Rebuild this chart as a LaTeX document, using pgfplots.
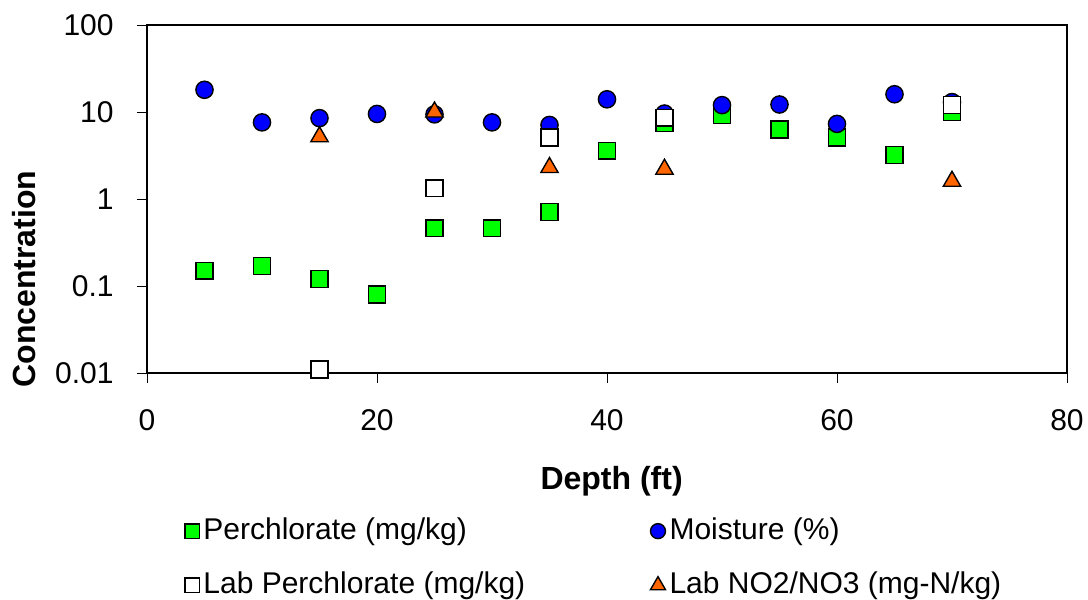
\documentclass[border=0pt]{standalone}
\usepackage{pgfplots}
\pgfplotsset{compat=1.18}
\usepackage{fontspec}
\setmainfont{Liberation Sans}
\definecolor{cgreen}{RGB}{0,255,0}
\definecolor{cblue}{RGB}{0,0,255}
\definecolor{corange}{RGB}{255,102,0}
\begin{document}
\fontsize{15}{18}\selectfont
\begin{tikzpicture}
\path[use as bounding box] (-73.5pt,-113.5pt) rectangle (470.5pt,186.5pt);
\begin{axis}[
  at={(0pt,0pt)}, anchor=south west,
  scale only axis, width=460pt, height=174pt,
  xmin=0, xmax=80, ymode=log, ymin=0.01, ymax=100,
  xtick={0,20,40,60,80},
  ytick={0.01,0.1,1,10,100},
  yticklabels={0.01,0.1,1,10,100},
  /pgf/number format/assume math mode=true,
  log basis y=10,
  minor y tick num=8,
  axis line style={line width=1pt},
  tick align=outside,
  major tick length=5pt,
  minor tick length=3.5pt,
  tick style={black, line width=0.4pt},
  minor y tick style={xshift=3.5pt},
  xtick pos=bottom, ytick pos=left,
  ticklabel style={font=\fontsize{15}{18}\selectfont},
  xticklabel style={yshift=-8pt},
  yticklabel style={xshift=-6.5pt},
  xlabel={\textbf{Depth (ft)}},
  ylabel={\textbf{Concentration}},
  label style={font=\fontsize{16}{19}\selectfont},
  xlabel style={at={(axis description cs:0.505,-0.31)}, anchor=center},
  ylabel style={at={(axis description cs:-0.134,0.27)}, anchor=center},
  legend columns=2,
  legend cell align=left,
  legend style={draw=none, fill=none, at={(axis description cs:0.0407,-0.404)}, anchor=north west,
    font=\fontsize{15}{18}\selectfont, row sep=10pt, inner sep=0pt},
  legend image code/.code={\draw[#1, every mark/.append style={scale=0.87}] (3pt,0pt) -- plot coordinates {(3pt,0pt)};},
  every axis plot/.append style={only marks, line width=0.7pt, draw=black},
]
\addplot[mark=square*, mark size=4.2pt, mark options={fill=cgreen, draw=black}] coordinates {
(5,0.15) (10,0.17) (15,0.12) (20,0.08) (25,0.46) (30,0.46) (35,0.71) (40,3.6) (45,7.5) (50,9.2) (55,6.3) (60,5.1) (65,3.2) (70,10)
};
\addlegendentry{\makebox[221.5pt][l]{Perchlorate (mg/kg)}}
\addplot[mark=*, mark size=4.3pt, mark options={fill=cblue, draw=black}] coordinates {
(5,18) (10,7.6) (15,8.5) (20,9.5) (25,9.4) (30,7.6) (35,7.1) (40,14) (45,9.6) (50,12) (55,12.2) (60,7.3) (65,16) (70,13)
};
\addlegendentry{Moisture (\%)}
\addplot[mark=square*, mark size=4.2pt, mark options={fill=white, draw=black}] coordinates {
(15,0.011) (25,1.33) (35,5.1) (45,8.6) (70,12)
};
\addlegendentry{\makebox[221.5pt][l]{Lab Perchlorate (mg/kg)}}
\addplot[mark=triangle*, mark size=5pt, mark options={fill=corange, draw=black}] coordinates {
(15,5.2) (25,10) (35,2.3) (45,2.2) (70,1.6)
};
\addlegendentry{Lab NO2/NO3 (mg-N/kg)}
\end{axis}
\end{tikzpicture}
\end{document}
